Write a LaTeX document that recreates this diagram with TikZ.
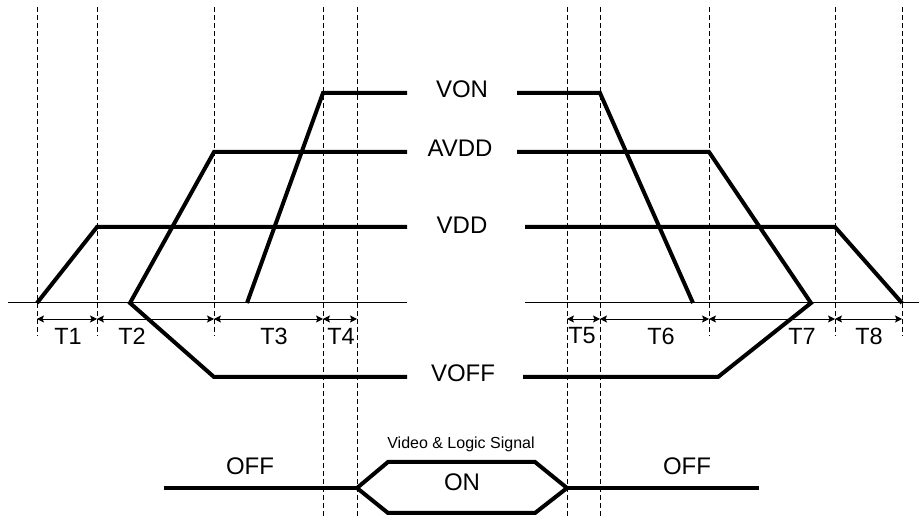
\documentclass[tikz,border=0pt]{standalone}
\usepackage{fontspec}
\setmainfont{Liberation Sans}
\usetikzlibrary{
  arrows.meta,
}
\def\mytop{7}      % upper end of the time marks
\def\myaxis{303}   % zero level
\def\mydim{319}    % row of the interval arrows
\def\mytl{336}     % row of the interval labels
\tikzset{
  x=1pt,
  y=-1pt,
  font=\fontsize{24}{28}\selectfont,
  >=Stealth,
  wave/.style={
    line width=4pt,
    line join=miter
  },
  axis/.style={
    line width=1pt
  },
  mark line/.style={
    line width=0.9pt,
    dash pattern=on 5pt off 3pt
  },
  dim/.style={
    <->,
    line width=0.9pt,
    >={Stealth[length=7pt,width=7pt,inset=1.5pt]}
  },
  lbl/.style={
    inner sep=0pt
  },
  tlbl/.style={
    lbl,
    font=\fontsize{23.5}{26}\selectfont
  },
  small lbl/.style={
    lbl,
    font=\fontsize{16}{18}\selectfont
  }
}
\begin{document}
\begin{tikzpicture}
\useasboundingbox (0,0) rectangle (919,518);

% time marks
\foreach \n/\x/\y in {1/37/336,2/97/336,3/214/336,4/323/518,5/357/518,
                      6/567/518,7/600/518,8/709/336,9/835/336,10/902/336}{
  \coordinate (top\n) at (\x,\mytop);
  \coordinate (bot\n) at (\x,\y);
  \coordinate (dim\n) at (\x,\mydim);
  \draw[mark line] (top\n) -- (bot\n);
}
\foreach \a/\b in {1/2,2/3,3/4,4/5,6/7,7/8,8/9,9/10}
  \draw[dim] (dim\a) -- (dim\b);

% interval labels
\node[tlbl] (t1) at (68,\mytl)  {T1};
\node[tlbl] (t2) at (132,\mytl) {T2};
\node[tlbl] (t3) at (274,\mytl) {T3};
\node[tlbl] (t4) at (341,\mytl) {T4};
\node[tlbl] (t5) at (582,\mytl) {T5};
\node[tlbl] (t6) at (661,\mytl) {T6};
\node[tlbl] (t7) at (802,\mytl) {T7};
\node[tlbl] (t8) at (869,\mytl) {T8};

% zero level
\draw[axis] (8,\myaxis) -- (407,\myaxis);
\draw[axis] (525,\myaxis) -- (919,\myaxis);

% rail names
\node[lbl] (von)  at (462,89)  {VON};
\node[lbl] (avdd) at (460,148) {AVDD};
\node[lbl] (vdd)  at (462,225) {VDD};
\node[lbl] (voff) at (463,373) {VOFF};

% power on
\draw[wave] (37,\myaxis) -- (97,227) -- (407,227);
\draw[wave] (407,152) -- (214,152) -- (130,\myaxis) -- (214,377) -- (407,377);
\draw[wave] (247,\myaxis) -- (323,93) -- (407,93);

% power off
\draw[wave] (517,93) -- (600,93) -- (693,\myaxis);
\draw[wave] (517,152) -- (709,152) -- (811,\myaxis) -- (718,377) -- (523,377);
\draw[wave] (525,227) -- (835,227) -- (902,\myaxis);

% video and logic signal
\coordinate (sl) at (357,488);
\coordinate (sr) at (567,488);
\draw[wave] (164,488) -- (sl);
\draw[wave] (sl) -- (388,462) -- (535,462) -- (sr) -- (535,513) -- (388,513) -- cycle;
\draw[wave] (sr) -- (759,488);
\node[lbl]       (offl) at (250,466) {OFF};
\node[lbl]       (offr) at (687,466) {OFF};
\node[lbl]       (on)   at (462,482) {ON};
\node[small lbl] (sig)  at (461,444) {Video \& Logic Signal};
\end{tikzpicture}
\end{document}
